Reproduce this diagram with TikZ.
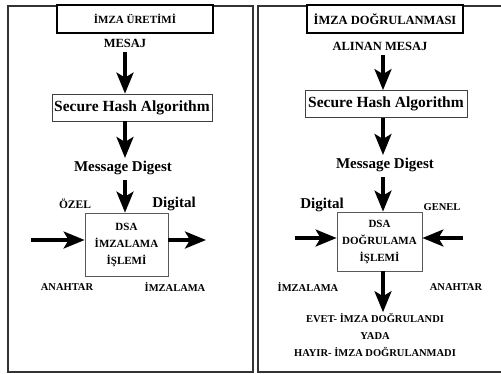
\documentclass[tikz,border=0pt]{standalone}
\usepackage{fontspec}
\setmainfont{Liberation Serif}
\usepackage{tikz}
\usetikzlibrary{arrows.meta, positioning, calc}
\tikzset{
  panel/.style={draw=black!80, line width=1.6pt},
  titlebox/.style={
    draw, line width=1.3pt, minimum width=156pt, minimum height=28pt,
    inner sep=0pt, font=\bfseries\fontsize{11}{13}\selectfont
  },
  hashbox/.style={
    draw=black!75, line width=0.8pt, minimum height=27pt, inner sep=2pt,
    font=\bfseries\fontsize{15.5}{17}\selectfont
  },
  dsabox/.style={
    draw=black!65, line width=0.8pt, align=center, inner sep=0pt,
    font=\bfseries\fontsize{11}{17}\selectfont
  },
  steplabel/.style={font=\bfseries\fontsize{12.5}{14}\selectfont, inner sep=1pt},
  digestlabel/.style={font=\bfseries\fontsize{15}{17}\selectfont, inner sep=1pt},
  keylabel/.style={font=\bfseries\fontsize{10.5}{12}\selectfont, inner sep=1pt},
  bigarrow/.style={-{Stealth[length=21pt,width=17pt,inset=5pt]}, line width=3.2pt},
}

\begin{document}
\begin{tikzpicture}[x=1pt, y=-1pt]
  \useasboundingbox (0,0) rectangle (501,373);

  % === Panels ===
  \draw[panel] (8,6) rectangle (253,372);
  \draw[panel] (258,6) rectangle (506,372);

  % === Left: signing ===
  \node[titlebox, fill=white] (titleL) at (135,19) {İMZA ÜRETİMİ};
  \node[steplabel] (mesaj) at (125,43) {MESAJ};
  \node[hashbox, minimum width=160pt] (shaL) at (132,107.5) {Secure Hash Algorithm};
  \node[digestlabel] (digestL) at (123,168) {Message Digest};
  \node[dsabox, minimum width=83pt, minimum height=63pt] (dsaL) at (126.5,244.5)
    {DSA\\İMZALAMA\\İŞLEMİ};
  \node[keylabel, font=\bfseries\fontsize{11.5}{13}\selectfont] (ozel) at (75,204) {ÖZEL};
  \node[digestlabel] (digitalL) at (174,204) {Digital};
  \node[keylabel] (anahtarL) at (67,287) {ANAHTAR};
  \node[keylabel] (imzalamaL) at (175,287) {İMZALAMA};
  \coordinate (axL) at (125,0);
  \coordinate (inL) at (31,240);
  \coordinate (outL) at (206,240);

  \draw[bigarrow, shorten <=4pt] (axL |- mesaj.south) -- (axL |- shaL.north);
  \draw[bigarrow, shorten >=2pt] (axL |- shaL.south) -- (axL |- digestL.north);
  \draw[bigarrow, shorten <=4pt] (axL |- digestL.south) -- (axL |- dsaL.north);
  \draw[bigarrow] (inL) -- (inL -| dsaL.west);
  \draw[bigarrow] (outL -| dsaL.east) -- (outL);

  % === Right: verification ===
  \node[titlebox, fill=white, line width=1.8pt, font=\bfseries\fontsize{12.5}{14}\selectfont] (titleR) at (385,19)
    {İMZA DOĞRULANMASI};
  \node[steplabel] (alinan) at (380,46) {ALINAN MESAJ};
  \node[hashbox, minimum width=162pt] (shaR) at (386,104) {Secure Hash Algorithm};
  \node[digestlabel] (digestR) at (385,165) {Message Digest};
  \node[dsabox, minimum width=85pt, minimum height=59pt] (dsaR) at (379.5,241.5)
    {DSA\\DOĞRULAMA\\İŞLEMİ};
  \node[digestlabel] (digitalR) at (322,205) {Digital};
  \node[keylabel] (genel) at (442,207) {GENEL};
  \node[keylabel] (imzalamaR) at (308,287) {İMZALAMA};
  \node[keylabel] (anahtarR) at (456,287) {ANAHTAR};
  \node[keylabel, align=center, font=\bfseries\fontsize{10.5}{17}\selectfont] (sonuc) at (375,335)
    {EVET- İMZA DOĞRULANDI\\YADA\\HAYIR- İMZA DOĞRULANMADI};
  \coordinate (axR) at (383,0);
  \coordinate (inR) at (295,238);
  \coordinate (genR) at (463,238);

  \draw[bigarrow, shorten <=4pt] (axR |- alinan.south) -- (axR |- shaR.north);
  \draw[bigarrow, shorten >=2pt] (axR |- shaR.south) -- (axR |- digestR.north);
  \draw[bigarrow, shorten <=4pt] (axR |- digestR.south) -- (axR |- dsaR.north);
  \draw[bigarrow] (inR) -- (inR -| dsaR.west);
  \draw[bigarrow] (genR) -- (genR -| dsaR.east);
  \draw[bigarrow] (axR |- dsaR.south) -- (axR |- sonuc.north);

\end{tikzpicture}
\end{document}
